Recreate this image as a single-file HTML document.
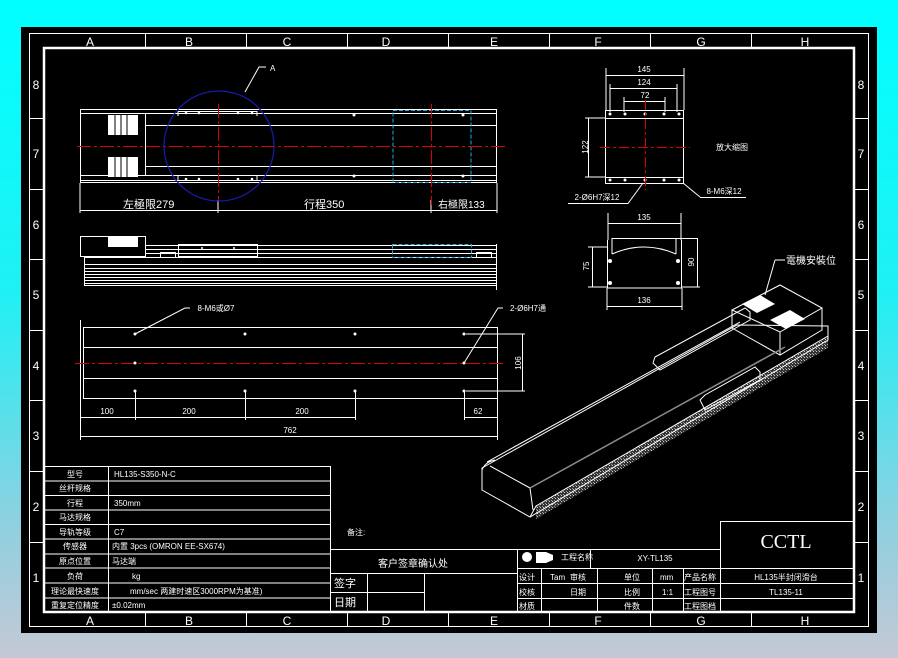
<!DOCTYPE html>
<html><head><meta charset="utf-8"><style>
html,body{margin:0;padding:0;width:898px;height:658px;overflow:hidden;background:linear-gradient(#00ffff 0%,#20f0f4 45%,#90d0e0 80%,#c4c8d4 100%);}
svg{position:absolute;left:0;top:0}
text{font-family:"Liberation Sans","Noto Sans CJK SC",sans-serif;fill:#fff}
</style></head><body>
<svg width="898" height="658" viewBox="0 0 898 658" xmlns="http://www.w3.org/2000/svg">
<defs>
<pattern id="hatch" width="3" height="3" patternUnits="userSpaceOnUse"><rect width="3" height="3" fill="#333"/><rect width="1" height="1" fill="#ccc"/><rect x="2" y="2" width="1" height="1" fill="#999"/></pattern>
</defs>
<rect x="21" y="27" width="856" height="606" fill="#000"/>
<g stroke="#fff" fill="none" stroke-width="1">
<rect x="29.5" y="33.5" width="839" height="593"/>
<rect x="44" y="48" width="810" height="564" stroke-width="2.5"/>
<path d="M145.5 33.5V48M246.5 33.5V48M347.5 33.5V48M448.5 33.5V48M549.5 33.5V48M650.5 33.5V48M751.5 33.5V48"/>
<path d="M145.5 612V626.5M246.5 612V626.5M347.5 612V626.5M448.5 612V626.5M549.5 612V626.5M650.5 612V626.5M751.5 612V626.5"/>
<path d="M29.5 118.5H44M29.5 189.5H44M29.5 259.5H44M29.5 330.5H44M29.5 400.5H44M29.5 471.5H44M29.5 542.5H44"/>
<path d="M854 118.5H868.5M854 189.5H868.5M854 259.5H868.5M854 330.5H868.5M854 400.5H868.5M854 471.5H868.5M854 542.5H868.5"/>
</g>
<g font-size="12" text-anchor="middle">
<text x="90" y="46">A</text><text x="189" y="46">B</text><text x="287" y="46">C</text><text x="386" y="46">D</text><text x="494" y="46">E</text><text x="598" y="46">F</text><text x="701" y="46">G</text><text x="805" y="46">H</text>
<text x="90" y="625">A</text><text x="189" y="625">B</text><text x="287" y="625">C</text><text x="386" y="625">D</text><text x="494" y="625">E</text><text x="598" y="625">F</text><text x="701" y="625">G</text><text x="805" y="625">H</text>
<text x="36" y="89">8</text><text x="36" y="158">7</text><text x="36" y="229">6</text><text x="36" y="299">5</text><text x="36" y="370">4</text><text x="36" y="440">3</text><text x="36" y="511">2</text><text x="36" y="582">1</text>
<text x="861" y="89">8</text><text x="861" y="158">7</text><text x="861" y="229">6</text><text x="861" y="299">5</text><text x="861" y="370">4</text><text x="861" y="440">3</text><text x="861" y="511">2</text><text x="861" y="582">1</text>
</g>

<!-- TOP VIEW -->
<g stroke="#fff" fill="none" stroke-width="1">
<rect x="80.5" y="109.5" width="416" height="73"/>
<path d="M80 113.5H497M146 125.5H497M146 166.5H497M80 175.5H497M80 180.5H497"/>
<rect x="80.5" y="113.5" width="65" height="62"/>
<path d="M178 111.5H257V116M178 111.5V116M178 176V181M257 176V181"/>
<path d="M80 183V213M497 183V213M80 210.5H497M218 200V213M431 200V213"/>
</g>
<rect x="108" y="115" width="30" height="20" fill="#fff"/>
<rect x="108" y="157" width="30" height="20" fill="#fff"/>
<path d="M115 115V135M121 115V135M127 115V135M115 157V177M121 157V177M127 157V177" stroke="#000"/>
<rect x="393" y="110.5" width="78" height="72" fill="none" stroke="#2ad" stroke-dasharray="4 2"/>
<path d="M77 146.5H505" stroke="#d00" stroke-dasharray="14 3 3 3"/>
<path d="M218.5 104V200M431.5 104V205" stroke="#d00" stroke-dasharray="14 3 3 3"/>
<circle cx="219" cy="146" r="55" fill="none" stroke="#1a1ab0" stroke-width="1.2"/>
<path d="M245 92L259 67H266" stroke="#fff" fill="none"/>
<text x="270" y="71" font-size="8">A</text>
<g fill="#fff"><circle cx="186" cy="113" r="1.3"/><circle cx="199" cy="113" r="1.3"/><circle cx="238" cy="113" r="1.3"/><circle cx="252" cy="113" r="1.3"/><circle cx="186" cy="179" r="1.3"/><circle cx="199" cy="179" r="1.3"/><circle cx="238" cy="179" r="1.3"/><circle cx="252" cy="179" r="1.3"/><circle cx="354" cy="115" r="1.5"/><circle cx="463" cy="115" r="1.5"/><circle cx="354" cy="176" r="1.5"/><circle cx="463" cy="176" r="1.5"/></g>
<text x="123" y="208" font-size="11">左極限279</text>
<text x="304" y="208" font-size="11">行程350</text>
<text x="438" y="208" font-size="10">右極限133</text>

<!-- SIDE VIEW -->
<g stroke="#fff" fill="none" stroke-width="1">
<rect x="80.5" y="236.5" width="65" height="20"/>
<path d="M146 245.5H497M146 249.5H497M146 253.5H497"/>
<rect x="178.5" y="244.5" width="79" height="12"/>
<rect x="160.5" y="252.5" width="15" height="5"/>
<rect x="476.5" y="252.5" width="15" height="5"/>
<rect x="84.5" y="257.5" width="412" height="28"/>
<path d="M84 264.5H497M84 268.5H497M84 271.5H497M84 274.5H497M84 277.5H497M84 280.5H497M84 283.5H497M496.5 244V290"/>
</g>
<rect x="108" y="237" width="30" height="10" fill="#fff"/>
<rect x="392.5" y="244.5" width="79" height="13" fill="none" stroke="#2ad" stroke-dasharray="4 2"/>
<circle cx="202" cy="248" r="1" fill="#fff"/><circle cx="234" cy="248" r="1" fill="#fff"/>

<!-- BOTTOM VIEW -->
<g stroke="#fff" fill="none" stroke-width="1">
<rect x="83.5" y="327.5" width="414" height="71"/>
<path d="M83 347.5H497M83 378.5H497M80.5 320V440M497.5 399V440M135.5 392V420M245.5 392V420M355.5 392V420M464.5 392V420"/>
<path d="M80 417.5H355M464 417.5H497M80 436.5H497"/>
<path d="M466 334H525M466 391H525M522.5 334V391"/>
<path d="M135 334L185 308H190M464 363L498 308H503"/>
</g>
<path d="M75 363.5H505" stroke="#d00" stroke-dasharray="14 3 3 3"/>
<g fill="#fff"><circle cx="135" cy="334" r="1.5"/><circle cx="245" cy="334" r="1.5"/><circle cx="355" cy="334" r="1.5"/><circle cx="464" cy="334" r="1.5"/><circle cx="135" cy="391" r="1.5"/><circle cx="245" cy="391" r="1.5"/><circle cx="355" cy="391" r="1.5"/><circle cx="464" cy="391" r="1.5"/><circle cx="135" cy="363" r="1.5"/><circle cx="464" cy="363" r="1.5"/></g>
<g font-size="8" text-anchor="middle">
<text x="107" y="414">100</text><text x="189" y="414">200</text><text x="302" y="414">200</text><text x="478" y="414">62</text><text x="290" y="433">762</text>
<text x="216" y="311">8-M6或Ø7</text><text x="528" y="311">2-Ø6H7通</text>
<text x="518" y="366" transform="rotate(-90 518 363)">106</text>
</g>

<!-- END VIEWS -->
<g stroke="#fff" fill="none" stroke-width="1">
<rect x="605.5" y="110.5" width="78" height="73"/>
<path d="M605 118.5H684M605 177.5H684"/>
<path d="M606 68V110M684 68V110M606 75.5H684M610 84V112M677 84V112M610 88.5H677M624 97V112M665 97V112M624 101.5H665"/>
<path d="M588.5 118V177M585 118H605M585 177H605"/>
<path d="M568 203.5H628L643 183M700 197.5H746M683 183L700 197"/>
<path d="M608 213V240M681 213V240M608 223.5H681"/>
<path d="M607.5 240V288H681.5V240M612 238.5H697M612 238V254M676 238V254M612 254Q644 240 676 254"/>
<path d="M592.5 247V287M588 247H607M588 287H607M697.5 238V287M681 287H700"/>
<path d="M607 288V310M682 288V310M607 306.5H682"/>
</g>
<g fill="#fff"><circle cx="610" cy="114" r="1.5"/><circle cx="625" cy="114" r="1.5"/><circle cx="645" cy="114" r="1.5"/><circle cx="664" cy="114" r="1.5"/><circle cx="679" cy="114" r="1.5"/><circle cx="610" cy="180" r="1.5"/><circle cx="625" cy="180" r="1.5"/><circle cx="645" cy="180" r="1.5"/><circle cx="664" cy="180" r="1.5"/><circle cx="679" cy="180" r="1.5"/><circle cx="610" cy="261" r="2"/><circle cx="678" cy="261" r="2"/><circle cx="610" cy="283" r="2"/><circle cx="678" cy="283" r="2"/></g>
<path d="M645.5 100V190M600 147.5H690" stroke="#d00" stroke-dasharray="10 3 3 3"/>
<g font-size="8" text-anchor="middle">
<text x="644" y="72">145</text><text x="644" y="85">124</text><text x="645" y="98">72</text>
<text x="585" y="150" transform="rotate(-90 585 147)">122</text>
<text x="597" y="200">2-Ø6H7深12</text><text x="724" y="194">8-M6深12</text>
<text x="732" y="150">放大缩图</text>
<text x="644" y="220">135</text><text x="644" y="303">136</text>
<text x="587" y="268" transform="rotate(-90 587 266)">75</text>
<text x="692" y="264" transform="rotate(-90 692 262)">90</text>
</g>

<!-- ISOMETRIC -->
<polygon points="536,506 828,336 828,348 536,519" fill="url(#hatch)"/>
<g stroke="#fff" fill="none" stroke-width="1">
<path d="M482 468L737 325L828 326L828 340L530 517L482 490Z"/>
<path d="M487 462L740 322M490 466L530 488L533 510M530 488L780 350M482 470Q485 462 495 460M530 517L536 506L828 336"/>
<path d="M653 363L655 357L745 308L750 312L750 320L660 370Z"/>
<path d="M700 400L705 395L755 367L760 372L760 380L705 410Z"/>
<path d="M732 310L780 285L822 308L780 332Z M732 310V328L780 355L822 330V308M780 332V355"/>
<path d="M775 260H785M775 260L765 295"/>
</g>
<path d="M530 488L785 347" stroke="#888" stroke-width="1.5"/>
<polygon points="742,304 760,295 775,304 757,313" fill="#fff"/>
<polygon points="770,320 790,310 805,319 786,329" fill="#fff"/>
<text x="786" y="264" font-size="10">電機安裝位</text>

<!-- LEFT SPEC TABLE -->
<g stroke="#fff" fill="none" stroke-width="1">
<rect x="43.5" y="466.5" width="287" height="145"/>
<path d="M43 481H331M43 495.5H331M43 510H331M43 524.5H331M43 539H331M43 554H331M43 568H331M43 583H331M43 598H331M108.5 466V612"/>
<path d="M331 549.5H720M331 573.5H517M331 592.5H424M367.5 573V612M424.5 573V612M517.5 549V612"/>
<path d="M517 568.5H853M517 583.5H720M517 598.5H720M541.5 568V612M597.5 568V612M652.5 568V612M683.5 568V612M590.5 549V568M720.5 521V612M720 521.5H853M720 583.5H853M720 598.5H853"/>
</g>
<g font-size="8">
<g text-anchor="middle">
<text x="75" y="477">型号</text><text x="75" y="491">丝杆规格</text><text x="75" y="506">行程</text><text x="75" y="520">马达规格</text><text x="75" y="535">导轨等级</text><text x="75" y="549">传感器</text><text x="75" y="564">原点位置</text><text x="75" y="579">负荷</text><text x="75" y="594">理论最快速度</text><text x="75" y="608">重复定位精度</text>
</g>
<text x="114" y="477">HL135-S350-N-C</text><text x="114" y="506">350mm</text><text x="114" y="535">C7</text>
<text x="112" y="549">内置 3pcs (OMRON EE-SX674)</text><text x="112" y="564">马达端</text>
<text x="132" y="579">kg</text><text x="130" y="594">mm/sec 两建时速区3000RPM为基准)</text><text x="112" y="608">±0.02mm</text>
<text x="347" y="535">备注:</text>
<text x="378" y="567" font-size="10">客户签章确认处</text>
<text x="334" y="587" font-size="11">签字</text><text x="334" y="606" font-size="11">日期</text>
<text x="519" y="580">设计</text><text x="519" y="595">校核</text><text x="519" y="609">材质</text>
<text x="550" y="580">Tam</text><text x="570" y="580">审核</text><text x="570" y="595">日期</text>
<text x="624" y="580">单位</text><text x="624" y="595">比例</text><text x="624" y="609">件数</text>
<text x="660" y="580">mm</text><text x="662" y="595">1:1</text>
<text x="684" y="580">产品名称</text><text x="684" y="595">工程图号</text><text x="684" y="609">工程图档</text>
<text x="786" y="580" text-anchor="middle">HL135半封闭滑台</text><text x="786" y="595" text-anchor="middle">TL135-11</text>
<text x="561" y="560">工程名称</text><text x="655" y="561" text-anchor="middle">XY-TL135</text>
</g>
<circle cx="527" cy="557" r="5" fill="#fff"/>
<path d="M536 552H546L553 555V560L546 563H536Z" fill="#fff"/>
<text x="786" y="548" font-size="20" text-anchor="middle" style="font-family:'Liberation Serif',serif">CCTL</text>
</svg>
</body></html>
